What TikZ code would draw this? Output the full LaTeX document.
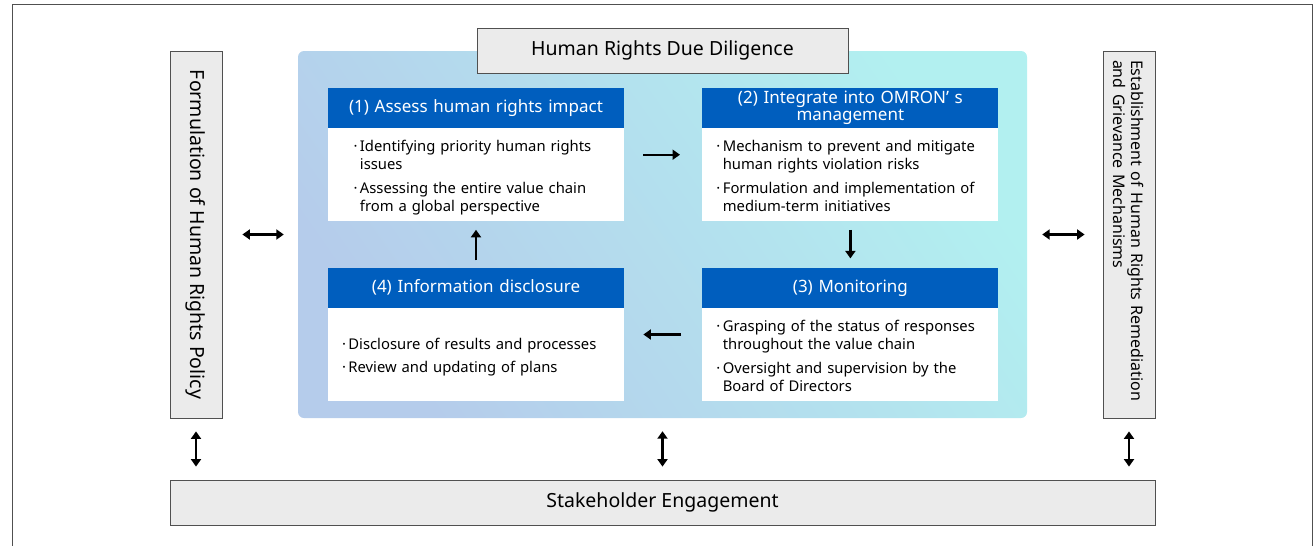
\documentclass[tikz,border=0pt]{standalone}
\usepackage{fontspec}
\setmainfont{Noto Sans}
\usetikzlibrary{positioning}
\usetikzlibrary{calc}
\usetikzlibrary{fit}
\usetikzlibrary{arrows.meta}
\definecolor{hdrblue}{HTML}{005EBE}
\definecolor{boxgray}{HTML}{EBEBEB}
\definecolor{edgegray}{HTML}{505050}
\definecolor{pnlblue}{HTML}{B5CCEB}
\definecolor{pnlcyan}{HTML}{B2F0F0}
\newcommand{\bul}[1]{\par\noindent·\,\begin{tabular}[t]{@{}l@{}}#1\end{tabular}\par}

\begin{document}
\begin{tikzpicture}[x=1pt,y=-1pt
  ,hdr/.style={fill=hdrblue,text=white,minimum width=296pt,minimum height=40pt
              ,inner sep=0pt,align=center,text width=290pt
              ,font=\fontsize{17}{17}\selectfont}
  ,body/.style={fill=white,minimum width=296pt,minimum height=93pt,inner ysep=0pt
               ,align=left,font=\fontsize{14.8}{18}\selectfont,below=0pt of #1}
  ,gbox/.style={draw=edgegray,fill=boxgray,line width=0.8pt,inner sep=0pt
               ,font=\fontsize{19.5}{20}\selectfont}
  ,side/.style={gbox,rotate=-90,minimum width=367pt,minimum height=52pt}
  ,arr/.style={line width=2.2pt,-{Triangle[length=7.5pt,width=10pt]}}
  ,dbl/.style={line width=2.2pt,{Triangle[length=7.5pt,width=10pt]}-{Triangle[length=7.5pt,width=10pt]}}
  ]
\useasboundingbox (0,0) rectangle (1315,546);
\draw[edgegray,line width=1pt] (12,546) -- (12,4) -- (1312,4) -- (1312,546);

% due diligence panel
\node[rounded corners=6pt,minimum width=729pt,minimum height=367pt
     ,bottom color=pnlblue,top color=pnlcyan,shading angle=-55] (dd) at (662.5,234.5) {};
\node[gbox,minimum width=371pt,minimum height=45pt] (ttl) at (662.5,50.5) {Human Rights Due Diligence};

% the four steps
\node[hdr] (h1) at (476,108) {(1) Assess human rights impact};
\node[body=h1,text width=245pt] (b1) {\bul{Identifying priority human rights\\issues}
  \vspace{5pt}\bul{Assessing the entire value chain\\from a global perspective}};
\node[hdr,right=78pt of h1] (h2) {(2) Integrate into OMRON’ s\\management};
\node[body=h2,text width=268pt] (b2) {\bul{Mechanism to prevent and mitigate\\human rights violation risks}
  \vspace{5pt}\bul{Formulation and implementation of\\medium-term initiatives}};
\node[hdr,below=46pt of b1] (h4) {(4) Information disclosure};
\node[body=h4,text width=268pt] (b4) {\bul{Disclosure of results and processes}
  \vspace{5pt}\bul{Review and updating of plans}};
\node[hdr,below=46pt of b2] (h3) {(3) Monitoring};
\node[body=h3,text width=268pt] (b3) {\bul{Grasping of the status of responses\\throughout the value chain}
  \vspace{5pt}\bul{Oversight and supervision by the\\Board of Directors}};
\node[fit=(h1)(b1),inner sep=0pt] (s1) {};
\node[fit=(h2)(b2),inner sep=0pt] (s2) {};
\node[fit=(h3)(b3),inner sep=0pt] (s3) {};
\node[fit=(h4)(b4),inner sep=0pt] (s4) {};
\draw[arr,shorten <=19pt,shorten >=22pt] (s1) -- (s2);
\draw[arr,shorten <=8pt,shorten >=9pt] (s2) -- (s3);
\draw[arr,shorten <=21pt,shorten >=19pt] (s3) -- (s4);
\draw[arr,shorten <=7pt,shorten >=8pt] (s4) -- (s1);

% side boxes and engagement
\node[side] (pol) at (196,234.5) {Formulation of Human Rights Policy};
\node[side,align=left,inner xsep=9pt,text width=349pt,font=\fontsize{16}{18}\selectfont] (rem) at (1129,234.5)
  {Establishment of Human Rights Remediation\\and Grievance Mechanisms};
\node[gbox,minimum width=985pt,minimum height=45pt] (eng) at (662.5,502.5) {Stakeholder Engagement};

\draw[dbl,shorten <=20pt,shorten >=14pt] (pol) -- (dd);
\draw[dbl,shorten <=15pt,shorten >=18pt] (dd) -- (rem);
\draw[dbl,shorten <=13pt,shorten >=13pt] (pol) -- (pol |- eng.north);
\draw[dbl,shorten <=13pt,shorten >=13pt] (dd) -- (dd |- eng.north);
\draw[dbl,shorten <=13pt,shorten >=13pt] (rem) -- (rem |- eng.north);
\end{tikzpicture}
\end{document}
